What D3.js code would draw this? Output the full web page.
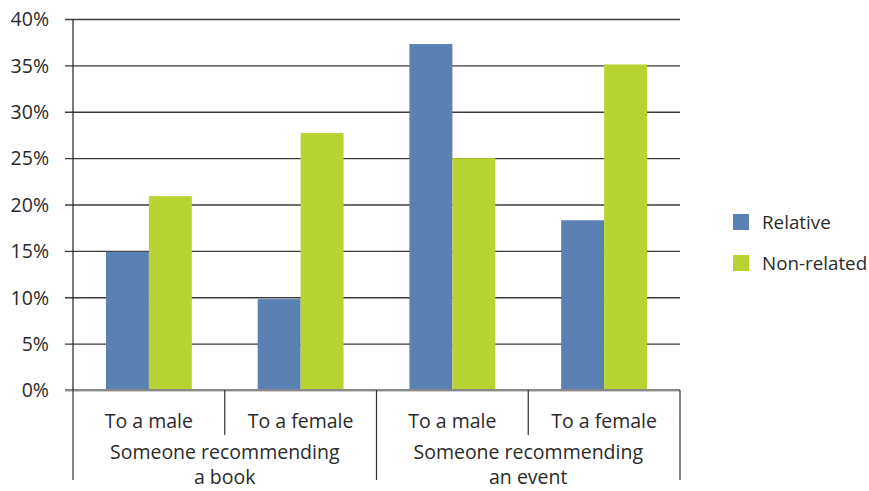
<!DOCTYPE html>
<html>
<head>
<meta charset="utf-8">
<script src="https://cdn.jsdelivr.net/npm/d3@7/dist/d3.min.js"></script>
<style>
  html, body { margin: 0; padding: 0; background: #fff; }
  svg { display: block; font-family: "Open Sans", "Noto Sans", sans-serif; }
</style>
</head>
<body>
<svg id="chart" width="869" height="491"></svg>
<script>
// Share of responses by who recommends what, and to whom
const groups = ["Someone recommending\na book", "Someone recommending\nan event"];
const subgroups = ["To a male", "To a female"];
const seriesNames = ["Relative", "Non-related"];
const relative   = [14.9, 9.8, 37.3, 18.3];
const nonRelated = [20.9, 27.7, 25.0, 35.1];
const yTicks = [0, 5, 10, 15, 20, 25, 30, 35, 40];
const colors = ["#5b80b4", "#b8d432"];

const svg = d3.select("#chart");
const plotLeft = 73, plotRight = 680, plotTop = 19, plotBottom = 390;

// one slot per (group, subgroup) pair
const slots = [];
groups.forEach((g, gi) => subgroups.forEach((s, si) => slots.push({ key: gi + "|" + si, g, s, gi, si })));
const values = [relative, nonRelated];

const x = d3.scaleBand().domain(slots.map(d => d.key)).range([plotLeft, plotRight]).paddingInner(0).paddingOuter(0);
const xInner = d3.scaleBand().domain(seriesNames).range([0, x.bandwidth()]).paddingInner(0).paddingOuter(0.767);
const y = d3.scaleLinear().domain([0, 40]).range([plotBottom, plotTop]);

// gridlines with left tick stubs
const yAxis = d3.axisLeft(y).tickValues(yTicks).tickFormat(d => d + "%")
  .tickSize(-(plotRight - plotLeft)).tickSizeOuter(0).tickPadding(24);
const gy = svg.append("g").attr("transform", `translate(${plotLeft},0)`).call(yAxis);
gy.select(".domain").remove();
gy.attr("font-family", null);
gy.selectAll(".tick line")
  .attr("x1", -8)
  .attr("stroke", "#3c3c3c").attr("stroke-width", 1.3);
gy.selectAll(".tick text")
  .attr("font-size", 19.5).attr("fill", "#2a2a2a")
  .attr("dy", "0.35em");

// bars
const barG = svg.append("g");
seriesNames.forEach((name, k) => {
  barG.selectAll(null).data(slots).join("rect")
    .attr("x", d => x(d.key) + xInner(name))
    .attr("width", xInner.bandwidth())
    .attr("y", (d, i) => y(values[k][i]))
    .attr("height", (d, i) => y(0) - y(values[k][i]))
    .attr("fill", colors[k]);
});

// zero baseline
svg.append("line")
  .attr("x1", plotLeft - 8).attr("x2", plotRight).attr("y1", y(0)).attr("y2", y(0))
  .attr("stroke", "#8a8a8a").attr("stroke-width", 2);

// vertical axis line
svg.append("line")
  .attr("x1", plotLeft).attr("x2", plotLeft).attr("y1", plotTop).attr("y2", plotBottom)
  .attr("stroke", "#222").attr("stroke-width", 1.2);

// category axis separators
const sepG = svg.append("g").attr("stroke", "#333").attr("stroke-width", 1.2);
const groupWidth = x.bandwidth() * subgroups.length;
groups.forEach((g, gi) => {
  const gx = plotLeft + gi * groupWidth;
  for (let si = 1; si < subgroups.length; si++) {
    const sx = gx + si * x.bandwidth();
    sepG.append("line").attr("x1", sx).attr("x2", sx).attr("y1", plotBottom).attr("y2", 435);
  }
});
for (let gi = 0; gi <= groups.length; gi++) {
  const gx = plotLeft + gi * groupWidth;
  sepG.append("line").attr("x1", gx).attr("x2", gx).attr("y1", plotBottom).attr("y2", 480);
}

// subgroup labels
svg.append("g").selectAll("text").data(slots).join("text")
  .attr("x", d => x(d.key) + x.bandwidth() / 2)
  .attr("y", 428)
  .attr("text-anchor", "middle")
  .attr("font-size", 19.5).attr("fill", "#2a2a2a")
  .text(d => d.s);

// group labels (two lines)
groups.forEach((g, gi) => {
  const cx = plotLeft + gi * groupWidth + groupWidth / 2;
  const t = svg.append("text").attr("text-anchor", "middle")
    .attr("font-size", 19.5).attr("fill", "#2a2a2a");
  g.split("\n").forEach((line, li) => {
    t.append("tspan").attr("x", cx).attr("y", 459 + li * 25).text(line);
  });
});

// legend
const legend = svg.append("g");
seriesNames.forEach((name, k) => {
  const ly = 214 + k * 41;
  legend.append("rect").attr("x", 733).attr("y", ly).attr("width", 16).attr("height", 16).attr("fill", colors[k]);
  legend.append("text").attr("x", 762).attr("y", ly + 15)
    .attr("font-size", 18.8).attr("fill", "#2a2a2a").text(name);
});
</script>
</body>
</html>
